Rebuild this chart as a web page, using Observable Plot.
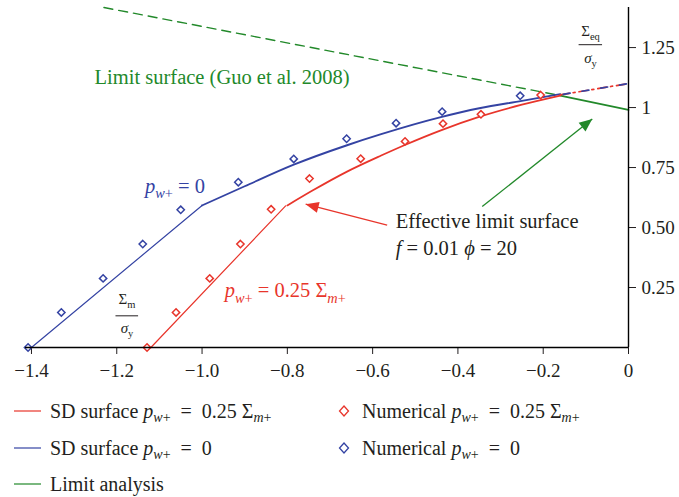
<!DOCTYPE html>
<html><head><meta charset="utf-8">
<script src="https://cdn.jsdelivr.net/npm/d3@7"></script>
<script src="https://cdn.jsdelivr.net/npm/@observablehq/plot@0.6"></script>
<style>
body{margin:0;background:#fff;font-family:"Liberation Serif",serif;}
#wrap{position:relative;width:679px;height:497px;overflow:hidden;background:#fff}
#legend{position:absolute;left:0;top:385px;width:679px;height:112px;font-size:20px;color:#231f20}
.li{position:absolute;height:24px;line-height:24px;white-space:nowrap}
.li sub{font-size:70%;vertical-align:-0.3em;line-height:0}
</style></head><body><div id="wrap"><div id="chart"></div><div id="legend"></div></div>
<script>
const RED = "#e8352b", BLUE = "#3443a3", GREEN = "#22892a", INK = "#231f20";

// SD surface p_w+ = 0 (blue)
const sdBlueLowX = [-1.40, -1.00];
const sdBlueLowY = [0, 0.592];
const sdBlueX = [-1.00, -0.90, -0.785, -0.66, -0.58, -0.44, -0.35, -0.25, -0.16];
const sdBlueY = [0.592, 0.672, 0.762, 0.843, 0.889, 0.960, 0.997, 1.028, 1.056];
// SD surface p_w+ = 0.25 Σm+ (red)
const sdRedLowX = [-1.12, -0.804];
const sdRedLowY = [0, 0.59];
const sdRedX = [-0.80, -0.74, -0.66, -0.58, -0.523, -0.44, -0.347, -0.25, -0.16];
const sdRedY = [0.592, 0.655, 0.733, 0.800, 0.845, 0.905, 0.963, 1.012, 1.05];
// extension beyond the limit surface (dash-dot)
const extX = [-0.16, 0];
const extY = [1.053, 1.10];
// Numerical results
const numBlueX = [-1.408, -1.330, -1.232, -1.139, -1.050, -0.915, -0.785, -0.661, -0.545, -0.437, -0.254];
const numBlueY = [0, 0.146, 0.288, 0.431, 0.574, 0.689, 0.786, 0.870, 0.935, 0.983, 1.049];
const numRedX = [-1.129, -1.061, -0.982, -0.910, -0.838, -0.748, -0.628, -0.524, -0.435, -0.346, -0.206];
const numRedY = [0, 0.146, 0.288, 0.431, 0.576, 0.704, 0.787, 0.859, 0.933, 0.972, 1.052];
// Limit analysis (Guo et al. 2008)
const limDashX = [-1.23, -0.16];
const limDashY = [1.417, 1.05];
const limSolidX = [-0.16, 0];
const limSolidY = [1.05, 0.99];

// axes
const xDomain = [-1.414, 0];
const yDomain = [0, 1.417];
const xTicks = [-1.4, -1.2, -1.0, -0.8, -0.6, -0.4, -0.2, 0];
const yTicks = [0.25, 0.5, 0.75, 1, 1.25];
const xTickLabels = ["−1.4", "−1.2", "−1.0", "−0.8", "−0.6", "−0.4", "−0.2", "0"];
const yTickLabels = ["0.25", "0.50", "0.75", "1", "1.25"];

// annotations
const annoText = ["Limit surface (Guo et al. 2008)", "*p*_{*w*+} = 0", "*p*_{*w*+} = 0.25 Σ_{*m*+}", "Effective limit surface", "*f* = 0.01 *ϕ* = 20"];
const annoX = [-1.252, -1.134, -0.947, -0.546, -0.546];
const annoY = [1.124, 0.672, 0.236, 0.524, 0.411];
const annoColor = [GREEN, BLUE, RED, INK, INK];
// axis-title fractions
const fracNum = ["Σ_{m}", "Σ_{eq}"];
const fracDen = ["*σ*_{y}", "*σ*_{y}"];
const fracX = [-1.176, -0.089];
const fracNumY = [0.202, 1.318];
const fracBarY = [0.132, 1.262];
const fracDenY = [0.080, 1.205];
const fracBarX1 = [-1.203, -0.117];
const fracBarX2 = [-1.150, -0.062];
// arrows
const arrX1 = [-0.566, -0.343];
const arrY1 = [0.510, 0.5875];
const arrX2 = [-0.757, -0.085];
const arrY2 = [0.5975, 0.952];
const arrColor = [RED, GREEN];

// legend
const legLabels = ["SD surface *p*_{*w*+}\u2002=\u20020.25 Σ_{*m*+}", "SD surface *p*_{*w*+}\u2002=\u20020", "Limit analysis", "Numerical *p*_{*w*+}\u2002=\u20020.25 Σ_{*m*+}", "Numerical *p*_{*w*+}\u2002=\u20020"];
const legKind = ["line", "line", "line", "diamond", "diamond"];
const legColor = [RED, BLUE, GREEN, RED, BLUE];
const legCol = [0, 0, 0, 1, 1];
const legRow = [0, 1, 2, 0, 1];

const W = 679, H = 385, mL = 25, mR = 51, mT = 7, mB = 38;
const xs = d3.scaleLinear(xDomain, [mL, W - mR]);
const ys = d3.scaleLinear(yDomain, [H - mB, mT]);

const pts = (X, Y) => X.map((x, i) => ({x, y: Y[i]}));

function headSymbol(x1, y1, x2, y2, L, Wd) {
  const dx = xs(x2) - xs(x1), dy = ys(y2) - ys(y1);
  const n = Math.hypot(dx, dy), c = dx / n, s = dy / n;
  return {draw(ctx) {
    ctx.moveTo(0, 0);
    ctx.lineTo(-L * c - Wd / 2 * s, -L * s + Wd / 2 * c);
    ctx.lineTo(-L * c + Wd / 2 * s, -L * s - Wd / 2 * c);
    ctx.closePath();
  }};
}

const fracRows = fracX.map((x, i) => ({x, num: fracNum[i], den: fracDen[i], ny: fracNumY[i], dy: fracDenY[i], by: fracBarY[i], x1: fracBarX1[i], x2: fracBarX2[i]}));
const annoRows = annoText.map((t, i) => ({t, x: annoX[i], y: annoY[i], c: annoColor[i]}));
const arrRows = arrX1.map((x1, i) => ({x1, y1: arrY1[i], x2: arrX2[i], y2: arrY2[i], c: arrColor[i]}));

const marks = [
  Plot.line(pts(limDashX, limDashY), {x: "x", y: "y", stroke: GREEN, strokeWidth: 1.4, strokeDasharray: "9,6"}),
  Plot.line(pts(limSolidX, limSolidY), {x: "x", y: "y", stroke: GREEN, strokeWidth: 1.7}),
  Plot.line(pts(sdBlueLowX, sdBlueLowY), {x: "x", y: "y", stroke: BLUE, strokeWidth: 1.2}),
  Plot.line(pts(sdBlueX, sdBlueY), {x: "x", y: "y", stroke: BLUE, strokeWidth: 1.9, curve: "monotone-x"}),
  Plot.line(pts(sdRedLowX, sdRedLowY), {x: "x", y: "y", stroke: RED, strokeWidth: 1.2}),
  Plot.line(pts(sdRedX, sdRedY), {x: "x", y: "y", stroke: RED, strokeWidth: 1.7, curve: "monotone-x"}),
  Plot.line(pts(extX, extY), {x: "x", y: "y", stroke: RED, strokeWidth: 1.7, strokeDasharray: "9,4,2,4"}),
  Plot.line(pts(extX, extY), {x: "x", y: "y", stroke: BLUE, strokeWidth: 1.7, strokeDasharray: "7,12", strokeDashoffset: -3}),
  Plot.dot(pts(numRedX, numRedY), {x: "x", y: "y", symbol: "diamond2", r: 3.3, stroke: RED, strokeWidth: 1.5, fill: "white"}),
  Plot.dot(pts(numBlueX, numBlueY), {x: "x", y: "y", symbol: "diamond2", r: 3.3, stroke: BLUE, strokeWidth: 1.5, fill: "white"}),
  ...arrRows.map(a => Plot.link([a], {x1: "x1", y1: "y1", x2: "x2", y2: "y2", stroke: a.c, strokeWidth: 1.3})),
  ...arrRows.map(a => Plot.dot([a], {x: "x2", y: "y2", r: 5, fill: a.c, stroke: "none", symbol: headSymbol(a.x1, a.y1, a.x2, a.y2, 13, 11)})),
  Plot.text(annoRows, {x: "x", y: "y", text: "t", fill: "c", textAnchor: "start", fontSize: 20.5}),
  Plot.text(fracRows, {x: "x", y: "ny", text: "num", fill: INK, textAnchor: "middle", fontSize: 15}),
  Plot.text(fracRows, {x: "x", y: "dy", text: "den", fill: INK, textAnchor: "middle", fontSize: 15}),
  Plot.link(fracRows, {x1: "x1", x2: "x2", y1: "by", y2: "by", stroke: INK, strokeWidth: 1}),
  Plot.ruleY([0], {stroke: "black", strokeWidth: 1.4}),
  Plot.ruleX([0], {stroke: "black", strokeWidth: 1.4})
];

const chart = Plot.plot({
  width: W, height: H, marginLeft: mL, marginRight: mR, marginTop: mT, marginBottom: mB,
  style: {fontFamily: "'Liberation Serif', serif", fontSize: "19px", color: INK, background: "white", overflow: "visible"},
  x: {domain: xDomain, ticks: xTicks, tickFormat: d => xTickLabels[xTicks.findIndex(t => Math.abs(t - d) < 1e-9)], tickSize: 7, tickPadding: 9, label: null},
  y: {domain: yDomain, ticks: yTicks, tickFormat: d => yTickLabels[yTicks.findIndex(t => Math.abs(t - d) < 1e-9)], tickSize: 7, tickPadding: 6, label: null, axis: "right"},
  marks
});

function parseMarkup(s) {
  const segs = []; let italic = false, sub = false, buf = "";
  const push = () => { if (buf) segs.push({t: buf, italic, sub}); buf = ""; };
  for (let i = 0; i < s.length; i++) {
    const c = s[i];
    if (c === "*") { push(); italic = !italic; }
    else if (c === "_" && s[i + 1] === "{") { push(); sub = true; i++; }
    else if (c === "}" && sub) { push(); sub = false; }
    else buf += c;
  }
  push();
  return segs;
}
const NS = "http://www.w3.org/2000/svg";
d3.select(chart).selectAll("text").each(function() {
  const s = this.textContent;
  if (!/[*]|_\{/.test(s) || this.children.length) return;
  const segs = parseMarkup(s);
  this.textContent = "";
  let prevSub = false;
  for (const g of segs) {
    const ts = document.createElementNS(NS, "tspan");
    ts.textContent = g.t;
    if (g.italic) ts.setAttribute("font-style", "italic");
    if (g.sub) { ts.setAttribute("font-size", "70%"); if (!prevSub) ts.setAttribute("dy", "0.36em"); }
    else if (prevSub) ts.setAttribute("dy", "-0.252em");
    prevSub = g.sub;
    this.appendChild(ts);
  }
});
document.getElementById("chart").appendChild(chart);

function htmlMarkup(s) {
  return parseMarkup(s).map(g => {
    let h = g.t.replace(/&/g, "&amp;").replace(/</g, "&lt;");
    if (g.italic) h = "<i>" + h + "</i>";
    if (g.sub) h = "<sub>" + h + "</sub>";
    return h;
  }).join("").replace(/<\/sub><sub>/g, "");
}
const legend = document.getElementById("legend");
const rowC = [26, 63, 99];
legLabels.forEach((lab, i) => {
  const cy = rowC[legRow[i]];
  const sw = document.createElement("div");
  sw.className = "li";
  if (legKind[i] === "line") {
    sw.style.left = "14px"; sw.style.top = (cy - 12) + "px";
    sw.innerHTML = `<svg width="27" height="24" style="display:block"><line x1="0" x2="27" y1="12" y2="12" stroke="${legColor[i]}" stroke-width="1.2"/></svg>`;
  } else {
    sw.style.left = "338px"; sw.style.top = (cy - 12) + "px";
    sw.innerHTML = `<svg width="12" height="24" style="display:block"><path d="M6,7L10.5,12L6,17L1.5,12Z" fill="none" stroke="${legColor[i]}" stroke-width="1.3"/></svg>`;
  }
  legend.appendChild(sw);
  const tx = document.createElement("div");
  tx.className = "li";
  tx.style.left = (legCol[i] ? 362 : 50) + "px";
  tx.style.top = (cy - 12) + "px";
  tx.innerHTML = htmlMarkup(lab);
  legend.appendChild(tx);
});
</script></body></html>
